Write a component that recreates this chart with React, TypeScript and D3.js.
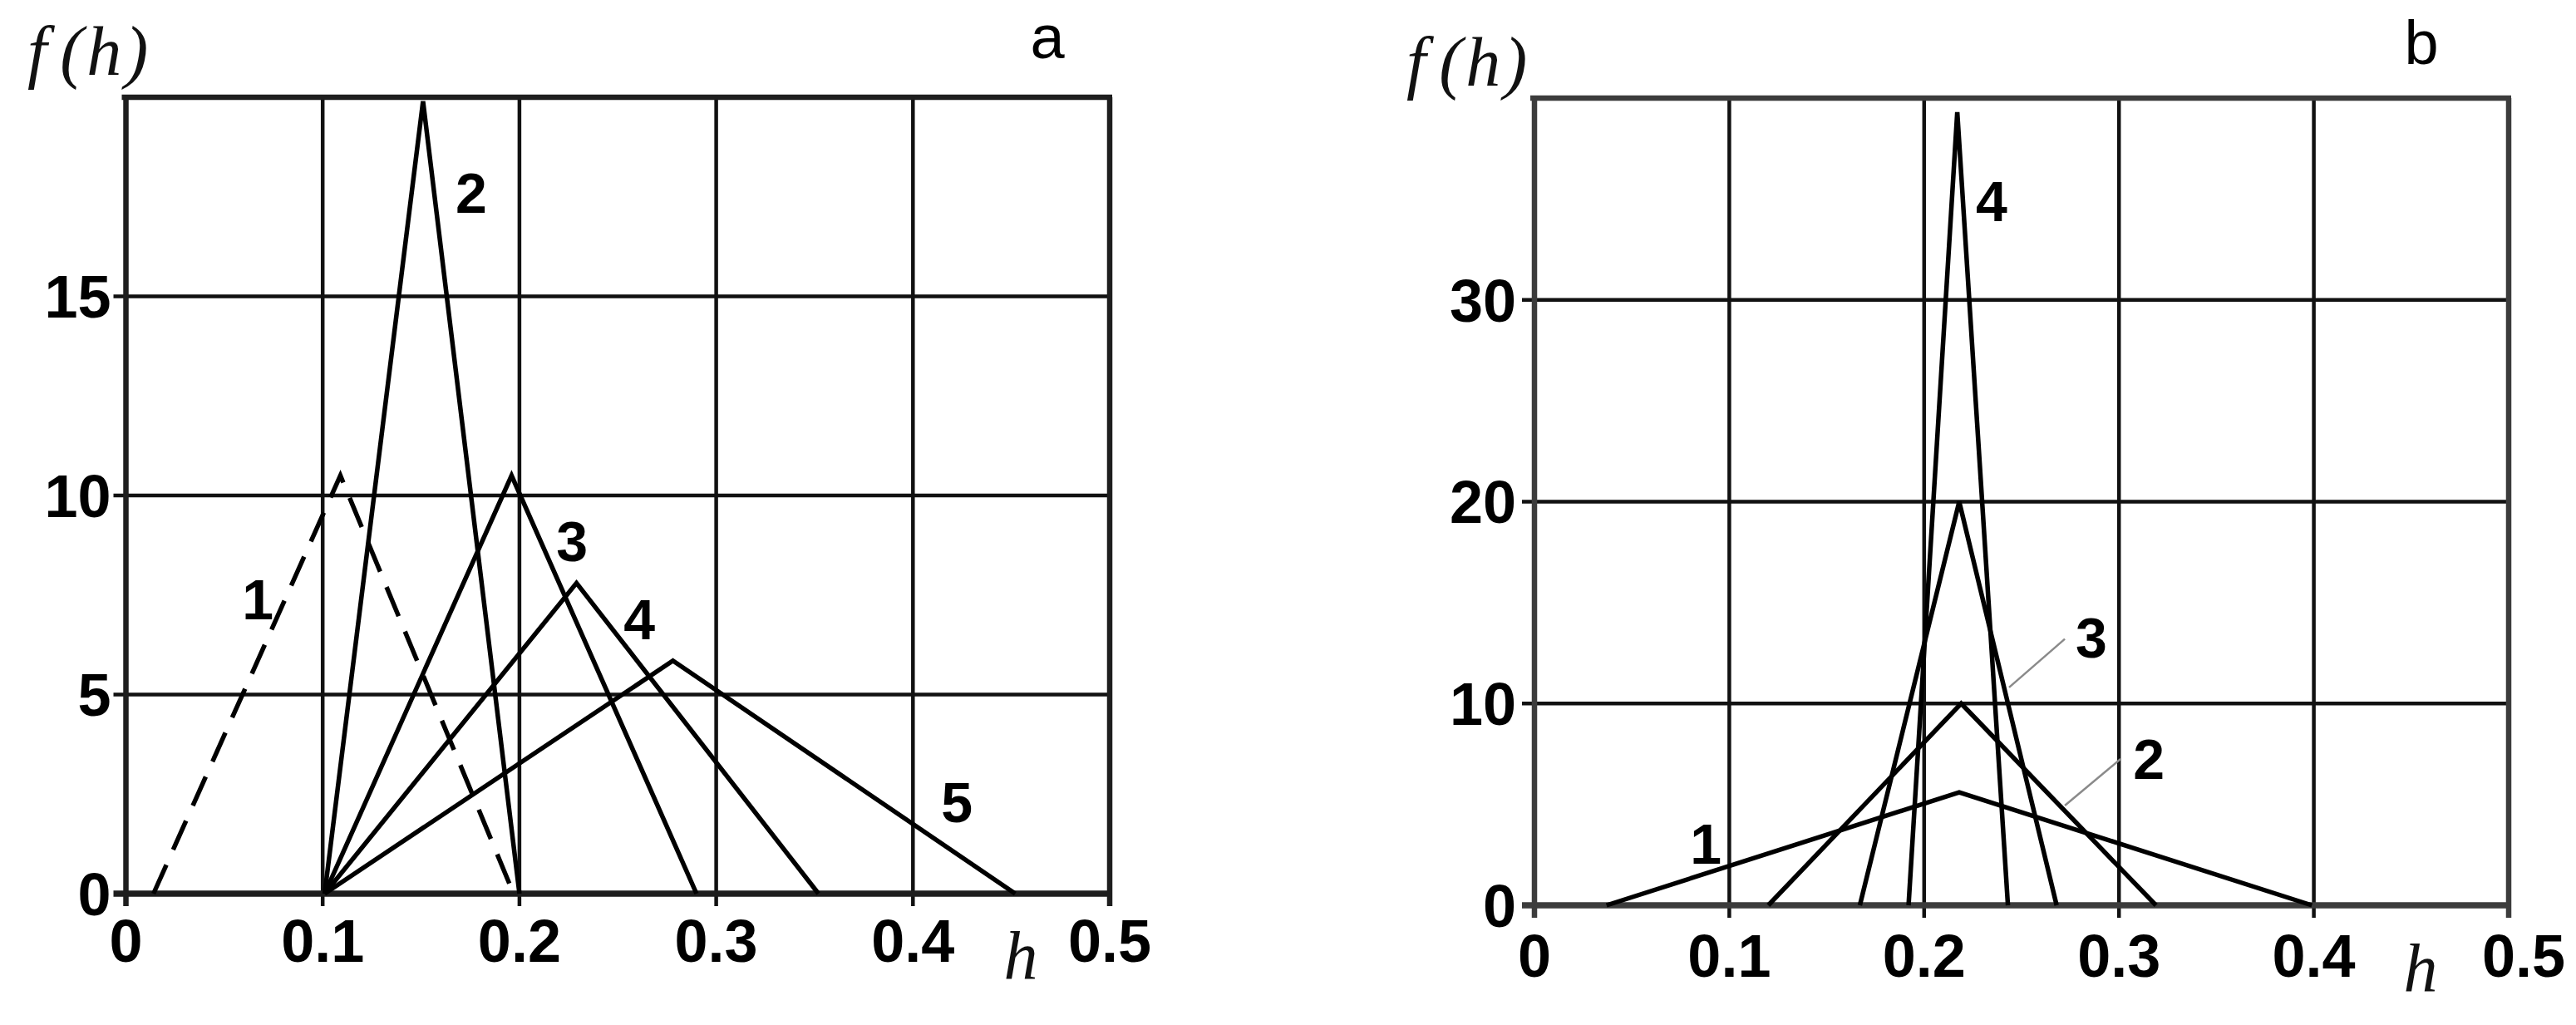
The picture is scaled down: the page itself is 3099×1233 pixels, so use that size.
import React from "react";
import * as d3 from "d3";

// shared h axis
const hTicks = [0, 0.1, 0.2, 0.3, 0.4, 0.5];

// panel a
const fTicksA = [0, 5, 10, 15];
const fMaxA = 20;
const curvesA = ["1", "2", "3", "4", "5"];
const curveHA = [
  [0.014, 0.109, 0.197],
  [0.101, 0.151, 0.2],
  [0.101, 0.196, 0.29],
  [0.101, 0.229, 0.352],
  [0.101, 0.278, 0.452],
];
const curveFA = [
  [0, 10.5, 0],
  [0, 19.9, 0],
  [0, 10.5, 0],
  [0, 7.8, 0],
  [0, 5.85, 0],
];

// panel b
const fTicksB = [0, 10, 20, 30];
const fMaxB = 40;
const curvesB = ["1", "2", "3", "4"];
const curveHB = [
  [0.037, 0.218, 0.399],
  [0.12, 0.219, 0.319],
  [0.167, 0.218, 0.268],
  [0.192, 0.217, 0.243],
];
const curveFB = [
  [0, 5.6, 0],
  [0, 10, 0],
  [0, 20, 0],
  [0, 39.3, 0],
];

const panels = [
  {
    key: "a",
    box: { left: 151.5, right: 1335, top: 117, bottom: 1075 },
    fTicks: fTicksA,
    fMax: fMaxA,
    names: curvesA,
    hs: curveHA,
    fs: curveFA,
    dashed: ["1"],
    labelAt: { "1": [0.067, 7.4], "2": [0.1755, 17.6], "3": [0.2267, 8.87], "4": [0.261, 6.9], "5": [0.4223, 2.3] },
    leaders: [],
    tickBaseline: 82,
    yLabelGap: 18,
    fhLabel: { x: 33, y: 90 },
    hLabel: { x: 1228, y: 1177 },
    letter: { x: 1260, y: 70 },
    frameColor: "#1e1e1e",
    last: 0,
  },
  {
    key: "b",
    box: { left: 1846, right: 3018, top: 118, bottom: 1089 },
    fTicks: fTicksB,
    fMax: fMaxB,
    names: curvesB,
    hs: curveHB,
    fs: curveFB,
    dashed: [],
    labelAt: { "1": [0.088, 3.05], "2": [0.3153, 7.25], "3": [0.2858, 13.3], "4": [0.2346, 34.9] },
    leaders: [
      [0.2722, 13.2, 0.2436, 10.8],
      [0.3008, 7.25, 0.2722, 4.94],
    ],
    tickBaseline: 86,
    yLabelGap: 22,
    fhLabel: { x: 1692, y: 103 },
    hLabel: { x: 2912, y: 1192 },
    letter: { x: 2913, y: 77 },
    frameColor: "#3c3c3c",
    last: 18,
  },
];

const SANS = "Arial, 'Liberation Sans', sans-serif";
const SERIF = "'Times New Roman', 'Liberation Serif', serif";

function Panel({ p }: { p: (typeof panels)[number] }) {
  const { left, right, top, bottom } = p.box;
  const x = d3.scaleLinear().domain([0, 0.5]).range([left, right]);
  const y = d3.scaleLinear().domain([0, p.fMax]).range([bottom, top]);
  const line = d3
    .line<[number, number]>()
    .x((d) => x(d[0]))
    .y((d) => y(d[1]));
  const gridF = [...p.fTicks.filter((t) => t > 0), p.fMax];

  return (
    <g>
      {/* grid */}
      {hTicks.slice(1, -1).map((t) => (
        <line key={"v" + t} x1={x(t)} x2={x(t)} y1={top} y2={bottom + 15} stroke="#111" strokeWidth={4.5} />
      ))}
      {gridF.slice(0, -1).map((t) => (
        <line key={"h" + t} x1={left - 15} x2={right} y1={y(t)} y2={y(t)} stroke="#111" strokeWidth={4.5} />
      ))}
      {/* frame */}
      <line x1={left - 5} x2={right + 3} y1={top} y2={top} stroke={p.frameColor} strokeWidth={6.5} />
      <line x1={right} x2={right} y1={top} y2={bottom + 15} stroke={p.frameColor} strokeWidth={6.5} />
      <line x1={left} x2={left} y1={top} y2={bottom + 15} stroke={p.frameColor} strokeWidth={6.5} />
      <line x1={left - 15} x2={right} y1={bottom} y2={bottom} stroke={p.frameColor} strokeWidth={7.5} />

      {/* curves */}
      {p.names.map((n, i) => (
        <path
          key={n}
          d={line(p.hs[i].map((h, j) => [h, p.fs[i][j]] as [number, number])) || ""}
          fill="none"
          stroke="#000"
          strokeWidth={5.5}
          strokeLinejoin="miter"
          strokeDasharray={p.dashed.includes(n) ? "38 20" : undefined}
        />
      ))}

      {/* leader lines */}
      {p.leaders.map((l, i) => (
        <line key={"l" + i} x1={x(l[0])} y1={y(l[1])} x2={x(l[2])} y2={y(l[3])} stroke="#8a8a8a" strokeWidth={2.5} />
      ))}

      {/* curve labels */}
      {p.names.map((n) => {
        const at = (p.labelAt as Record<string, number[]>)[n];
        return (
          <text
            key={"t" + n}
            x={x(at[0])}
            y={y(at[1])}
            dy="0.36em"
            textAnchor="middle"
            fontFamily={SANS}
            fontWeight="bold"
            fontSize={68}
          >
            {n}
          </text>
        );
      })}

      {/* h tick labels */}
      {hTicks.map((t, i) => (
        <text
          key={"xt" + t}
          x={x(t) + (i === hTicks.length - 1 ? p.last : 0)}
          y={bottom + p.tickBaseline}
          textAnchor="middle"
          fontFamily={SANS}
          fontWeight="bold"
          fontSize={72}
        >
          {d3.format(".1~f")(t)}
        </text>
      ))}

      {/* f tick labels */}
      {p.fTicks.map((t) => (
        <text
          key={"yt" + t}
          x={left - p.yLabelGap}
          y={y(t)}
          dy="0.36em"
          textAnchor="end"
          fontFamily={SANS}
          fontWeight="bold"
          fontSize={72}
        >
          {t}
        </text>
      ))}

      {/* axis titles */}
      <text x={p.fhLabel.x} y={p.fhLabel.y} fontFamily={SERIF} fontStyle="italic" fontSize={84} fill="#111">
        <tspan>f</tspan>
        <tspan dx={16}>(</tspan>
        <tspan dx={4}>h</tspan>
        <tspan dx={4}>)</tspan>
      </text>
      <text x={p.hLabel.x} y={p.hLabel.y} textAnchor="middle" fontFamily={SERIF} fontStyle="italic" fontSize={82} fill="#111">
        h
      </text>
      <text x={p.letter.x} y={p.letter.y} textAnchor="middle" fontFamily={SANS} fontSize={74}>
        {p.key}
      </text>
    </g>
  );
}

export default function App() {
  return (
    <svg
      width={3099}
      height={1233}
      viewBox="0 0 3099 1233"
      style={{ position: "absolute", left: 0, top: 0, background: "#fff", display: "block" }}
    >
      <rect width={3099} height={1233} fill="#fff" />
      {panels.map((p) => (
        <Panel key={p.key} p={p} />
      ))}
    </svg>
  );
}
